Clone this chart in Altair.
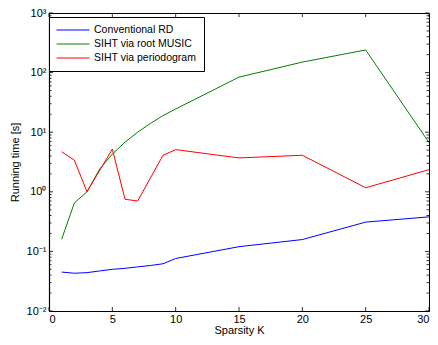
import altair as alt
import pandas as pd

series_names = ["Conventional RD", "SIHT via root MUSIC", "SIHT via periodogram"]
series_colors = ["#0000ff", "#008000", "#ff0000"]

k_blue = [1, 2, 3, 4, 5, 6, 7, 8, 9, 10, 15, 20, 25, 30]
v_blue = [0.045, 0.043, 0.044, 0.047, 0.050, 0.052, 0.055, 0.058, 0.062, 0.076, 0.12, 0.158, 0.31, 0.38]

k_green = [1, 2, 3, 4, 5, 6, 7, 8, 9, 10, 15, 20, 25, 30]
v_green = [0.16, 0.65, 1.0, 2.4, 4.3, 6.8, 10, 14, 19, 24.5, 84, 150, 240, 6.7]

k_red = [1, 2, 3, 5, 6, 7, 9, 10, 15, 20, 25, 30]
v_red = [4.7, 3.4, 1.0, 5.2, 0.75, 0.7, 4.1, 5.1, 3.7, 4.1, 1.17, 2.35]

x_ticks = [0, 5, 10, 15, 20, 25, 30]
y_major = [0.01, 0.1, 1, 10, 100, 1000]
y_minor = [m * 10.0 ** e for e in range(-2, 3) for m in range(2, 10)]

W, H = 380, 298
FONT = "Liberation Sans"

rows = []
for name, ks, vs in zip(series_names, [k_blue, k_green, k_red], [v_blue, v_green, v_red]):
    for i, (k, v) in enumerate(zip(ks, vs)):
        rows.append({"K": k, "t": v, "series": name, "order": i})
df = pd.DataFrame(rows)

xscale = alt.Scale(domain=[0, 30], nice=False, zero=False)
yscale = alt.Scale(type="log", domain=[0.01, 1000], nice=False)

lines = alt.Chart(df).mark_line(strokeWidth=1, clip=True).encode(
    x=alt.X("K:Q", scale=xscale,
            axis=alt.Axis(values=x_ticks, title="Sparsity K", ticks=False, grid=False,
                          labelPadding=2, titlePadding=0, format="d")),
    y=alt.Y("t:Q", scale=yscale,
            axis=alt.Axis(values=y_major, title="Running time [s]", ticks=False, grid=False,
                          labelPadding=3, titlePadding=6,
                          labelExpr="'10' + ['\u207b\u00b2','\u207b\u00b9','\u2070','\u00b9','\u00b2','\u00b3'][round(log(datum.value)/LN10)+2]")),
    color=alt.Color("series:N", scale=alt.Scale(domain=series_names, range=series_colors),
                    legend=alt.Legend(title=None, orient="none", legendX=0, legendY=4,
                                      symbolType="M-1,0H5", symbolSize=121, symbolStrokeWidth=1,
                                      symbolFillColor="transparent",
                                      strokeColor="black", fillColor="white", padding=7,
                                      labelFontSize=10.5, labelFont=FONT, labelColor="black",
                                      labelOffset=26, rowPadding=2, cornerRadius=0)),
    order="order:Q",
)

xt = pd.DataFrame({"x": x_ticks})
ymaj = pd.DataFrame({"y": y_major})
ymin = pd.DataFrame({"y": y_minor})

tick_style = dict(color="black", strokeWidth=0.8)
bx = alt.Chart(xt).mark_rule(**tick_style).encode(x=alt.X("x:Q", scale=xscale), y=alt.value(H), y2=alt.value(H - 4))
tx = alt.Chart(xt).mark_rule(**tick_style).encode(x=alt.X("x:Q", scale=xscale), y=alt.value(0), y2=alt.value(4))
ly = alt.Chart(ymaj).mark_rule(**tick_style).encode(y=alt.Y("y:Q", scale=yscale), x=alt.value(0), x2=alt.value(4))
ry = alt.Chart(ymaj).mark_rule(**tick_style).encode(y=alt.Y("y:Q", scale=yscale), x=alt.value(W), x2=alt.value(W - 4))
lym = alt.Chart(ymin).mark_rule(**tick_style).encode(y=alt.Y("y:Q", scale=yscale), x=alt.value(0), x2=alt.value(2.5))
rym = alt.Chart(ymin).mark_rule(**tick_style).encode(y=alt.Y("y:Q", scale=yscale), x=alt.value(W), x2=alt.value(W - 2.5))

chart = alt.layer(lines, bx, tx, ly, ry, lym, rym).properties(
    width=W, height=H,
    autosize="none",
    background="white",
    padding={"left": 41, "top": 5, "right": 1, "bottom": 26},
).configure_view(stroke="black", strokeWidth=1).configure_axis(
    domainColor="black", domainWidth=1.2, labelColor="black", titleColor="black",
    labelFont=FONT, titleFont=FONT, labelFontSize=11, titleFontSize=11,
    titleFontWeight="normal",
)

chart.save("out.html", embed_options={"renderer": "svg", "actions": False})
